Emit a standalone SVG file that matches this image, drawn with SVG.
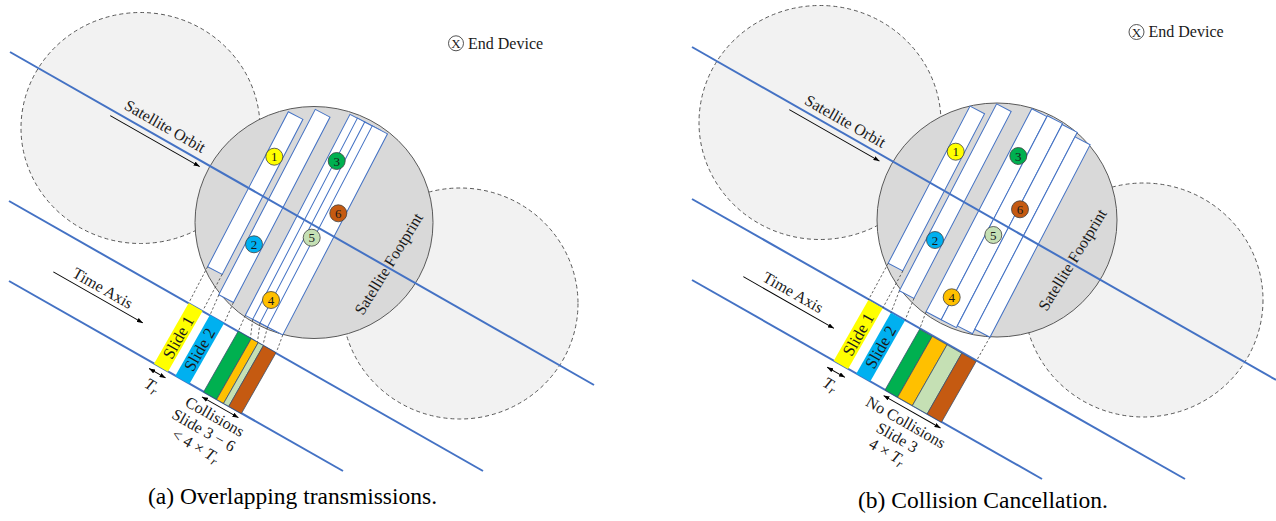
<svg xmlns="http://www.w3.org/2000/svg" width="1276" height="521" viewBox="0 0 1276 521">
<style>
text{font-family:"Liberation Serif","Times New Roman",serif;fill:#1a1a1a}
.lbl{font-size:16px}
.sl{font-size:16.5px}
.num{font-size:13px;text-anchor:middle}
.cap{font-size:23.5px;text-anchor:middle;fill:#000}
.dc{fill:#f2f2f2;stroke:#595959;stroke-width:1;stroke-dasharray:4 3}
.mc{fill:#d9d9d9;stroke:#595959;stroke-width:1}
.strip{fill:#fff;stroke:#4472c4;stroke-width:1}
.axis{stroke:#4472c4;stroke-width:2;fill:none}
.proj{stroke:#404040;stroke-width:0.8;stroke-dasharray:2.5 2;fill:none}
.arr{stroke:#000;stroke-width:0.9;fill:none;marker-end:url(#ah)}
.darr{stroke:#000;stroke-width:0.9;fill:none;marker-end:url(#ah);marker-start:url(#ah)}
.node{stroke:#404040;stroke-width:0.8}
.box{stroke:#3b4f6b;stroke-width:0.7}
</style>
<defs>
<marker id="ah" viewBox="0 0 8 6" refX="8" refY="3" markerWidth="6" markerHeight="4.5" markerUnits="userSpaceOnUse" orient="auto-start-reverse"><path d="M0,0 L8,3 L0,6 z" fill="#000"/></marker>
</defs>

<!-- ================= LEFT PANEL ================= -->
<g id="panel-a">
  <g id="footprints-a">
    <ellipse class="dc" cx="140.5" cy="128" rx="119.5" ry="115.5"/>
    <ellipse class="dc" cx="460" cy="303.5" rx="118" ry="115.5"/>
    <ellipse id="footprint-a" class="mc" cx="314" cy="222.5" rx="119" ry="116"/>
  </g>
  <g id="strips-a" transform="rotate(27.5)">
    <rect id="strip-a1" class="strip" x="307.3" y="-34" width="16.5" height="174.7"/>
    <rect id="strip-a2" class="strip" x="330.2" y="-48.5" width="16.6" height="209"/>
    <rect id="strip-a3" class="strip" x="363.2" y="-60.2" width="17.2" height="226.7"/>
    <rect id="strip-a4" class="strip" x="371.6" y="-60.2" width="17.2" height="226.7"/>
    <rect id="strip-a5" class="strip" x="379.8" y="-60.2" width="17.2" height="226.7"/>
    <rect id="strip-a6" class="strip" x="388.3" y="-60.2" width="17.2" height="226.7"/>
  </g>
  <g id="connectors-a">
    <line class="axis" x1="10" y1="52" x2="594" y2="385"/>
    <line class="axis" x1="9" y1="201" x2="483" y2="471"/>
    <line class="axis" x1="9" y1="281" x2="343" y2="471"/>
    <line class="proj" x1="207.6" y1="266.7" x2="189.2" y2="302.1"/>
    <line class="proj" x1="222.2" y1="274.3" x2="203.1" y2="310.1"/>
    <line class="proj" x1="218.8" y1="294.9" x2="210.4" y2="314.2"/>
    <line class="proj" x1="233.4" y1="302.5" x2="224.5" y2="322.3"/>
    <line class="proj" x1="245.3" y1="315.4" x2="238.7" y2="330.4"/>
    <line class="proj" x1="252.7" y1="319.3" x2="250.5" y2="337.8"/>
    <line class="proj" x1="260" y1="323.1" x2="257.5" y2="341.7"/>
    <line class="proj" x1="267.5" y1="327" x2="263" y2="344.7"/>
    <line class="proj" x1="282.8" y1="334.9" x2="276.5" y2="351.9"/>
  </g>
  <g id="band-a" transform="translate(314,222.5) rotate(29.68)">
    <g id="slide-a1"><rect x="-69" y="132" width="16" height="70" fill="#ffff00"/>
      <text class="sl" transform="translate(-61,167) rotate(-90)" text-anchor="middle" dy="5.5">Slide 1</text></g>
    <g id="slide-a2"><rect x="-44.6" y="132" width="16.3" height="70" fill="#00b0f0"/>
      <text class="sl" transform="translate(-36.4,167) rotate(-90)" text-anchor="middle" dy="5.5">Slide 2</text></g>
    <g id="slides-a3-6">
      <rect class="box" x="-12" y="132" width="15" height="70" fill="#00b050"/>
      <rect class="box" x="3" y="132" width="8" height="70" fill="#ffc000"/>
      <rect class="box" x="11" y="132" width="6" height="70" fill="#c5e0b4"/>
      <rect class="box" x="17" y="132" width="14.5" height="70" fill="#c55a11"/>
    </g>
    <line class="darr" x1="-71" y1="208.5" x2="-52" y2="208.5"/>
    <text class="lbl" x="-60" y="227" text-anchor="middle"><tspan font-style="italic">T</tspan><tspan font-style="italic" font-size="12" dy="3">r</tspan></text>
    <line class="darr" x1="-11" y1="207" x2="31" y2="207"/>
    <text class="lbl" x="10" y="223" text-anchor="middle">Collisions</text>
    <text class="lbl" x="7" y="240.5" text-anchor="middle">Slide 3 − 6</text>
    <text class="lbl" x="8" y="258" text-anchor="middle">&lt; 4 × <tspan font-style="italic">T</tspan><tspan font-style="italic" font-size="12" dy="3">r</tspan></text>
    <line class="arr" x1="-202" y1="172" x2="-99" y2="172"/>
    <text class="lbl" x="-151" y="167" text-anchor="middle">Time Axis</text>
    <line class="arr" x1="-230" y1="8" x2="-127" y2="8"/>
    <text class="lbl" x="-177" y="-4.5" text-anchor="middle">Satellite Orbit</text>
  </g>
  <text class="lbl" transform="translate(389,264) rotate(-58.5)" text-anchor="middle" dy="5">Satellite Footprint</text>
  <g id="nodes-a">
    <g id="node-a1"><circle class="node" cx="274.3" cy="156.7" r="8.5" fill="#ffff00"/><text class="num" x="274.3" y="161.3">1</text></g>
    <g id="node-a2"><circle class="node" cx="254" cy="244.3" r="8.5" fill="#00b0f0"/><text class="num" x="254" y="248.9">2</text></g>
    <g id="node-a3"><circle class="node" cx="336.7" cy="161" r="8.5" fill="#00b050"/><text class="num" x="336.7" y="165.6">3</text></g>
    <g id="node-a4"><circle class="node" cx="271" cy="300" r="8.5" fill="#ffc000"/><text class="num" x="271" y="304.6">4</text></g>
    <g id="node-a5"><circle class="node" cx="311.7" cy="237.7" r="8.5" fill="#c5e0b4"/><text class="num" x="311.7" y="242.3">5</text></g>
    <g id="node-a6"><circle class="node" cx="338.3" cy="213.3" r="8.5" fill="#c55a11"/><text class="num" x="338.3" y="217.9">6</text></g>
  </g>
  <g id="legend-a">
    <circle cx="456" cy="43.3" r="7.5" fill="none" stroke="#404040" stroke-width="0.9"/>
    <text class="num" x="456" y="47.8">X</text>
    <text class="lbl" x="468" y="48.5">End Device</text>
  </g>
  <text class="cap" x="292.5" y="504">(a) Overlapping transmissions.</text>
</g>

<!-- ================= RIGHT PANEL ================= -->
<g id="panel-b">
  <g id="footprints-b">
    <ellipse class="dc" cx="820" cy="122.5" rx="121" ry="117"/>
    <ellipse class="dc" cx="1143.5" cy="300" rx="119.5" ry="117"/>
    <ellipse id="footprint-b" class="mc" cx="997" cy="220" rx="120" ry="117"/>
  </g>
  <g id="strips-b" transform="rotate(27.5)">
    <rect id="strip-b1" class="strip" x="909.4" y="-353.8" width="16.4" height="177.2"/>
    <rect id="strip-b2" class="strip" x="932" y="-368" width="16.4" height="210.6"/>
    <rect id="strip-b3" class="strip" x="965.4" y="-380" width="17.1" height="229"/>
    <rect id="strip-b4" class="strip" x="982.5" y="-381" width="17.1" height="230"/>
    <rect id="strip-b5" class="strip" x="999.6" y="-380" width="17.1" height="227"/>
    <rect id="strip-b6" class="strip" x="1016.7" y="-375" width="17.1" height="217"/>
  </g>
  <g id="connectors-b">
    <line class="axis" x1="692" y1="47" x2="1276" y2="380"/>
    <line class="axis" x1="692" y1="199" x2="1185" y2="479"/>
    <line class="axis" x1="692" y1="280" x2="1042" y2="479"/>
    <line class="proj" x1="888.2" y1="263.3" x2="868.4" y2="300"/>
    <line class="proj" x1="902.9" y1="270.9" x2="882.7" y2="308.2"/>
    <line class="proj" x1="899.4" y1="290.7" x2="890.9" y2="312.8"/>
    <line class="proj" x1="914" y1="298.3" x2="904.8" y2="320.8"/>
    <line class="proj" x1="926" y1="311.8" x2="919.6" y2="329.2"/>
    <line class="proj" x1="989.9" y1="337.2" x2="976.1" y2="361.4"/>
  </g>
  <g id="band-b" transform="translate(996,218.5) rotate(29.68)">
    <g id="slide-b1"><rect x="-70.5" y="134" width="16.5" height="70" fill="#ffff00"/>
      <text class="sl" transform="translate(-62.2,169) rotate(-90)" text-anchor="middle" dy="5.5">Slide 1</text></g>
    <g id="slide-b2"><rect x="-44.6" y="134" width="16.1" height="70" fill="#00b0f0"/>
      <text class="sl" transform="translate(-36.5,169) rotate(-90)" text-anchor="middle" dy="5.5">Slide 2</text></g>
    <g id="slides-b3-6">
      <rect class="box" x="-11.5" y="134" width="14.5" height="70" fill="#00b050"/>
      <rect class="box" x="3" y="134" width="17" height="70" fill="#ffc000"/>
      <rect class="box" x="20" y="134" width="17" height="70" fill="#c5e0b4"/>
      <rect class="box" x="37" y="134" width="16.5" height="70" fill="#c55a11"/>
    </g>
    <line class="darr" x1="-73" y1="212.8" x2="-52.6" y2="212.8"/>
    <text class="lbl" x="-61.7" y="231.5" text-anchor="middle"><tspan font-style="italic">T</tspan><tspan font-style="italic" font-size="12" dy="3">r</tspan></text>
    <line class="darr" x1="-10" y1="209.5" x2="55.5" y2="209.5"/>
    <text class="lbl" x="22.5" y="227" text-anchor="middle">No Collisions</text>
    <text class="lbl" x="22.5" y="244.5" text-anchor="middle">Slide 3</text>
    <text class="lbl" x="21" y="262" text-anchor="middle">4 × <tspan font-style="italic">T</tspan><tspan font-style="italic" font-size="12" dy="3">r</tspan></text>
    <line class="arr" x1="-190.7" y1="175.7" x2="-86.4" y2="175.7"/>
    <text class="lbl" x="-139.7" y="170" text-anchor="middle">Time Axis</text>
    <line class="arr" x1="-233.5" y1="7.8" x2="-129.7" y2="7.8"/>
    <text class="lbl" x="-179.1" y="-4.5" text-anchor="middle">Satellite Orbit</text>
  </g>
  <text class="lbl" transform="translate(1072.7,260) rotate(-58.5)" text-anchor="middle" dy="5">Satellite Footprint</text>
  <g id="nodes-b">
    <g id="node-b1"><circle class="node" cx="955.7" cy="151.7" r="8.5" fill="#ffff00"/><text class="num" x="955.7" y="156.3">1</text></g>
    <g id="node-b2"><circle class="node" cx="935" cy="240" r="8.5" fill="#00b0f0"/><text class="num" x="935" y="244.6">2</text></g>
    <g id="node-b3"><circle class="node" cx="1018.3" cy="156" r="8.5" fill="#00b050"/><text class="num" x="1018.3" y="160.6">3</text></g>
    <g id="node-b4"><circle class="node" cx="951.7" cy="297.3" r="8.5" fill="#ffc000"/><text class="num" x="951.7" y="301.9">4</text></g>
    <g id="node-b5"><circle class="node" cx="993.3" cy="235" r="8.5" fill="#c5e0b4"/><text class="num" x="993.3" y="239.6">5</text></g>
    <g id="node-b6"><circle class="node" cx="1020" cy="209.3" r="8.5" fill="#c55a11"/><text class="num" x="1020" y="213.9">6</text></g>
  </g>
  <g id="legend-b">
    <circle cx="1136.5" cy="32" r="7.5" fill="none" stroke="#404040" stroke-width="0.9"/>
    <text class="num" x="1136.5" y="36.5">X</text>
    <text class="lbl" x="1148.5" y="37.2">End Device</text>
  </g>
  <text class="cap" x="983" y="508">(b) Collision Cancellation.</text>
</g>
</svg>
